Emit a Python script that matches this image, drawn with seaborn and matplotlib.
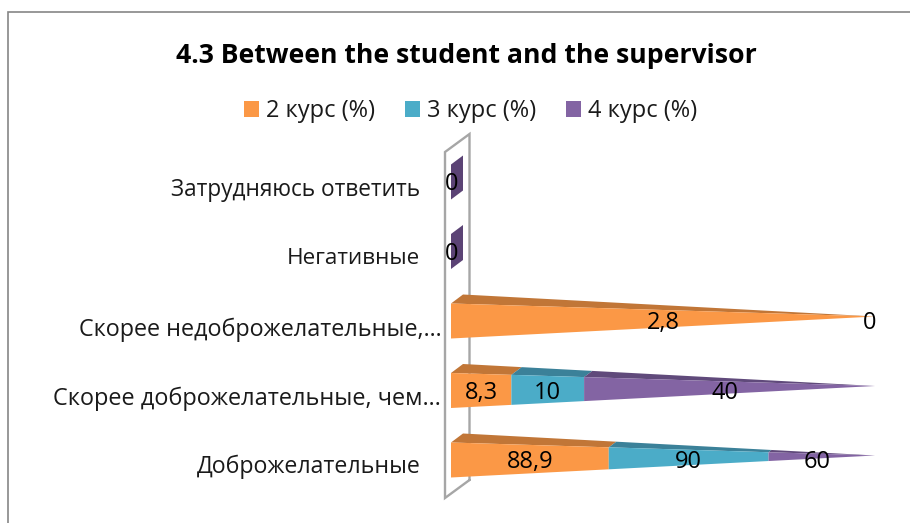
import matplotlib
matplotlib.use("Agg")
import matplotlib.pyplot as plt
from matplotlib.patches import Rectangle, Patch
from matplotlib.transforms import ScaledTranslation
import numpy as np
import seaborn as sns

categories = ["Затрудняюсь ответить", "Негативные", "Скорее недоброжелательные,…",
              "Скорее доброжелательные, чем…", "Доброжелательные"]
series_names = ["2 курс (%)", "3 курс (%)", "4 курс (%)"]
course2 = [0, 0, 2.8, 8.3, 88.9]
course3 = [0, 0, 0, 10, 90]
course4 = [0, 0, 0, 40, 60]
labels2 = ["", "", "2,8", "8,3", "88,9"]
labels3 = ["", "", "", "10", "90"]
labels4 = ["0", "0", "0", "40", "60"]

FRONT = sns.color_palette(["#FB9846", "#4BACC8", "#8364A3"])
TOP = sns.color_palette(["#C17637", "#3B8199", "#604A7B"])
ZERO = "#5B4375"
GREY = "#A6A6A6"
FONT = ["Open Sans", "DejaVu Sans"]
FS = 17

W, H = 910, 523
sns.set_theme(style="white", rc={"font.family": FONT, "axes.facecolor": "none"})
plt.rcParams["font.family"] = FONT
fig = plt.figure(figsize=(W / 100, H / 100), dpi=100, facecolor="white")
fig.add_artist(Rectangle((8 / W, -0.05), 1.1, 1 - 12 / H + 0.05, transform=fig.transFigure,
                         fc="none", ec="#868686", lw=1.2, zorder=-1))
ax = fig.add_axes([451 / W, 1 - 498 / H, 424 / W, 364 / H])
ax.patch.set_alpha(0)

# categorical axis from seaborn; cones are laid over it
totals = np.array(course2) + np.array(course3) + np.array(course4)
sns.barplot(x=totals, y=categories, order=categories, width=0, ax=ax, color="white")
ax.set_xlim(0, 100)
row = 69.5
ax.set_ylim((498 - 182) / row, (134 - 182) / row)
ax.set(xlabel="", ylabel="")
ax.xaxis.set_visible(False)
sns.despine(ax=ax, left=True, bottom=True)
ax.grid(False)

half = 17.5 / row        # half height of the cone base
rise = 4.5 / row         # tip sits above the base centre
dx = 12 / 4.24           # depth offset
dy = 9 / row

# wall
wx0, wx1 = -6 / 4.24, 18.5 / 4.24
yb, yt = (498 - 182) / row, (152 - 182) / row
d = 18 / row
ax.plot([wx1, wx0, wx0, wx1, wx1], [yb - d, yb, yt, yt - d, yb - d], color=GREY, lw=1.7,
        clip_on=False, zorder=1, solid_joinstyle="miter")

def top_edge(p, yc):
    return yc - half + (half - rise) * p / 100

def bot_edge(p, yc):
    return yc + half - (half + rise) * p / 100

values = np.array([course2, course3, course4], dtype=float)
texts = [labels2, labels3, labels4]
for i in range(len(categories)):
    total = values[:, i].sum()
    yc = i
    if total == 0:
        ax.fill([0, dx, dx, 0], [yc - half, yc - half - dy, yc + half - dy, yc + half],
                color=ZERO, lw=0, zorder=3, clip_on=False)
        ax.annotate(texts[2][i], (0.1, yc), xytext=(0, -1.5), textcoords="offset points",
                    ha="center", va="center", fontsize=FS, color="black", zorder=6,
                    annotation_clip=False)
        continue
    start = 0.0
    for s in range(3):
        v = values[s, i]
        if v == 0:
            if texts[s][i]:
                ax.annotate(texts[s][i], (100, yc - rise), xytext=(-4, -4.5), textcoords="offset points",
                            ha="center", va="center", fontsize=FS, color="black", zorder=6,
                            annotation_clip=False)
            continue
        p0, p1 = start, start + v / total * 100
        f0, f1 = 1 - p0 / 100, 1 - p1 / 100
        ax.fill([p0 + dx * f0, p1 + dx * f1, p1, p0],
                [top_edge(p0, yc) - dy * f0, top_edge(p1, yc) - dy * f1, top_edge(p1, yc), top_edge(p0, yc)],
                color=TOP[s], lw=0, zorder=3)
        ax.fill([p0, p1, p1, p0],
                [top_edge(p0, yc), top_edge(p1, yc), bot_edge(p1, yc), bot_edge(p0, yc)],
                color=FRONT[s], lw=0, zorder=4)
        off = -3 if s == 2 else 0
        ax.annotate(texts[s][i], ((p0 + p1) / 2, yc), xytext=(off, -1.5), textcoords="offset points",
                    ha="center", va="center", fontsize=FS, color="black", zorder=6,
                    annotation_clip=False)
        start = p1

ax.set_yticks(range(len(categories)), categories)
pads = [22, 22, 7, 7, 22]
shifts = [5, 5, 5.5, 5.5, 4]
sizes = [16.25, 16.2, 16.85, 16.95, 16.7]
ax.tick_params(axis="y", length=0, labelcolor="#1a1a1a")
for tick, pad, sh, size in zip(ax.yaxis.get_major_ticks(), pads, shifts, sizes):
    tick.set_pad(pad)
    tick.label1.set_fontfamily(FONT)
    tick.label1.set_fontsize(size)
    tick.label1.set_transform(tick.label1.get_transform()
                              + ScaledTranslation(0, -sh / 100, fig.dpi_scale_trans))

fig.text(466 / W, 1 - 56 / H, "4.3 Between the student and the supervisor", ha="center", va="center",
         fontsize=19.2, fontweight="bold", color="black")

handles = [Patch(fc=FRONT[s], ec="none") for s in range(3)]
fig.legend(handles, series_names, loc="center", bbox_to_anchor=(470.5 / W, 1 - 111 / H), ncol=3, frameon=False,
           fontsize=FS, handlelength=0.64, handleheight=0.64, handletextpad=0.3, columnspacing=1.25,
           labelcolor="#1a1a1a", borderpad=0)

fig.savefig("out.png", dpi=100)
